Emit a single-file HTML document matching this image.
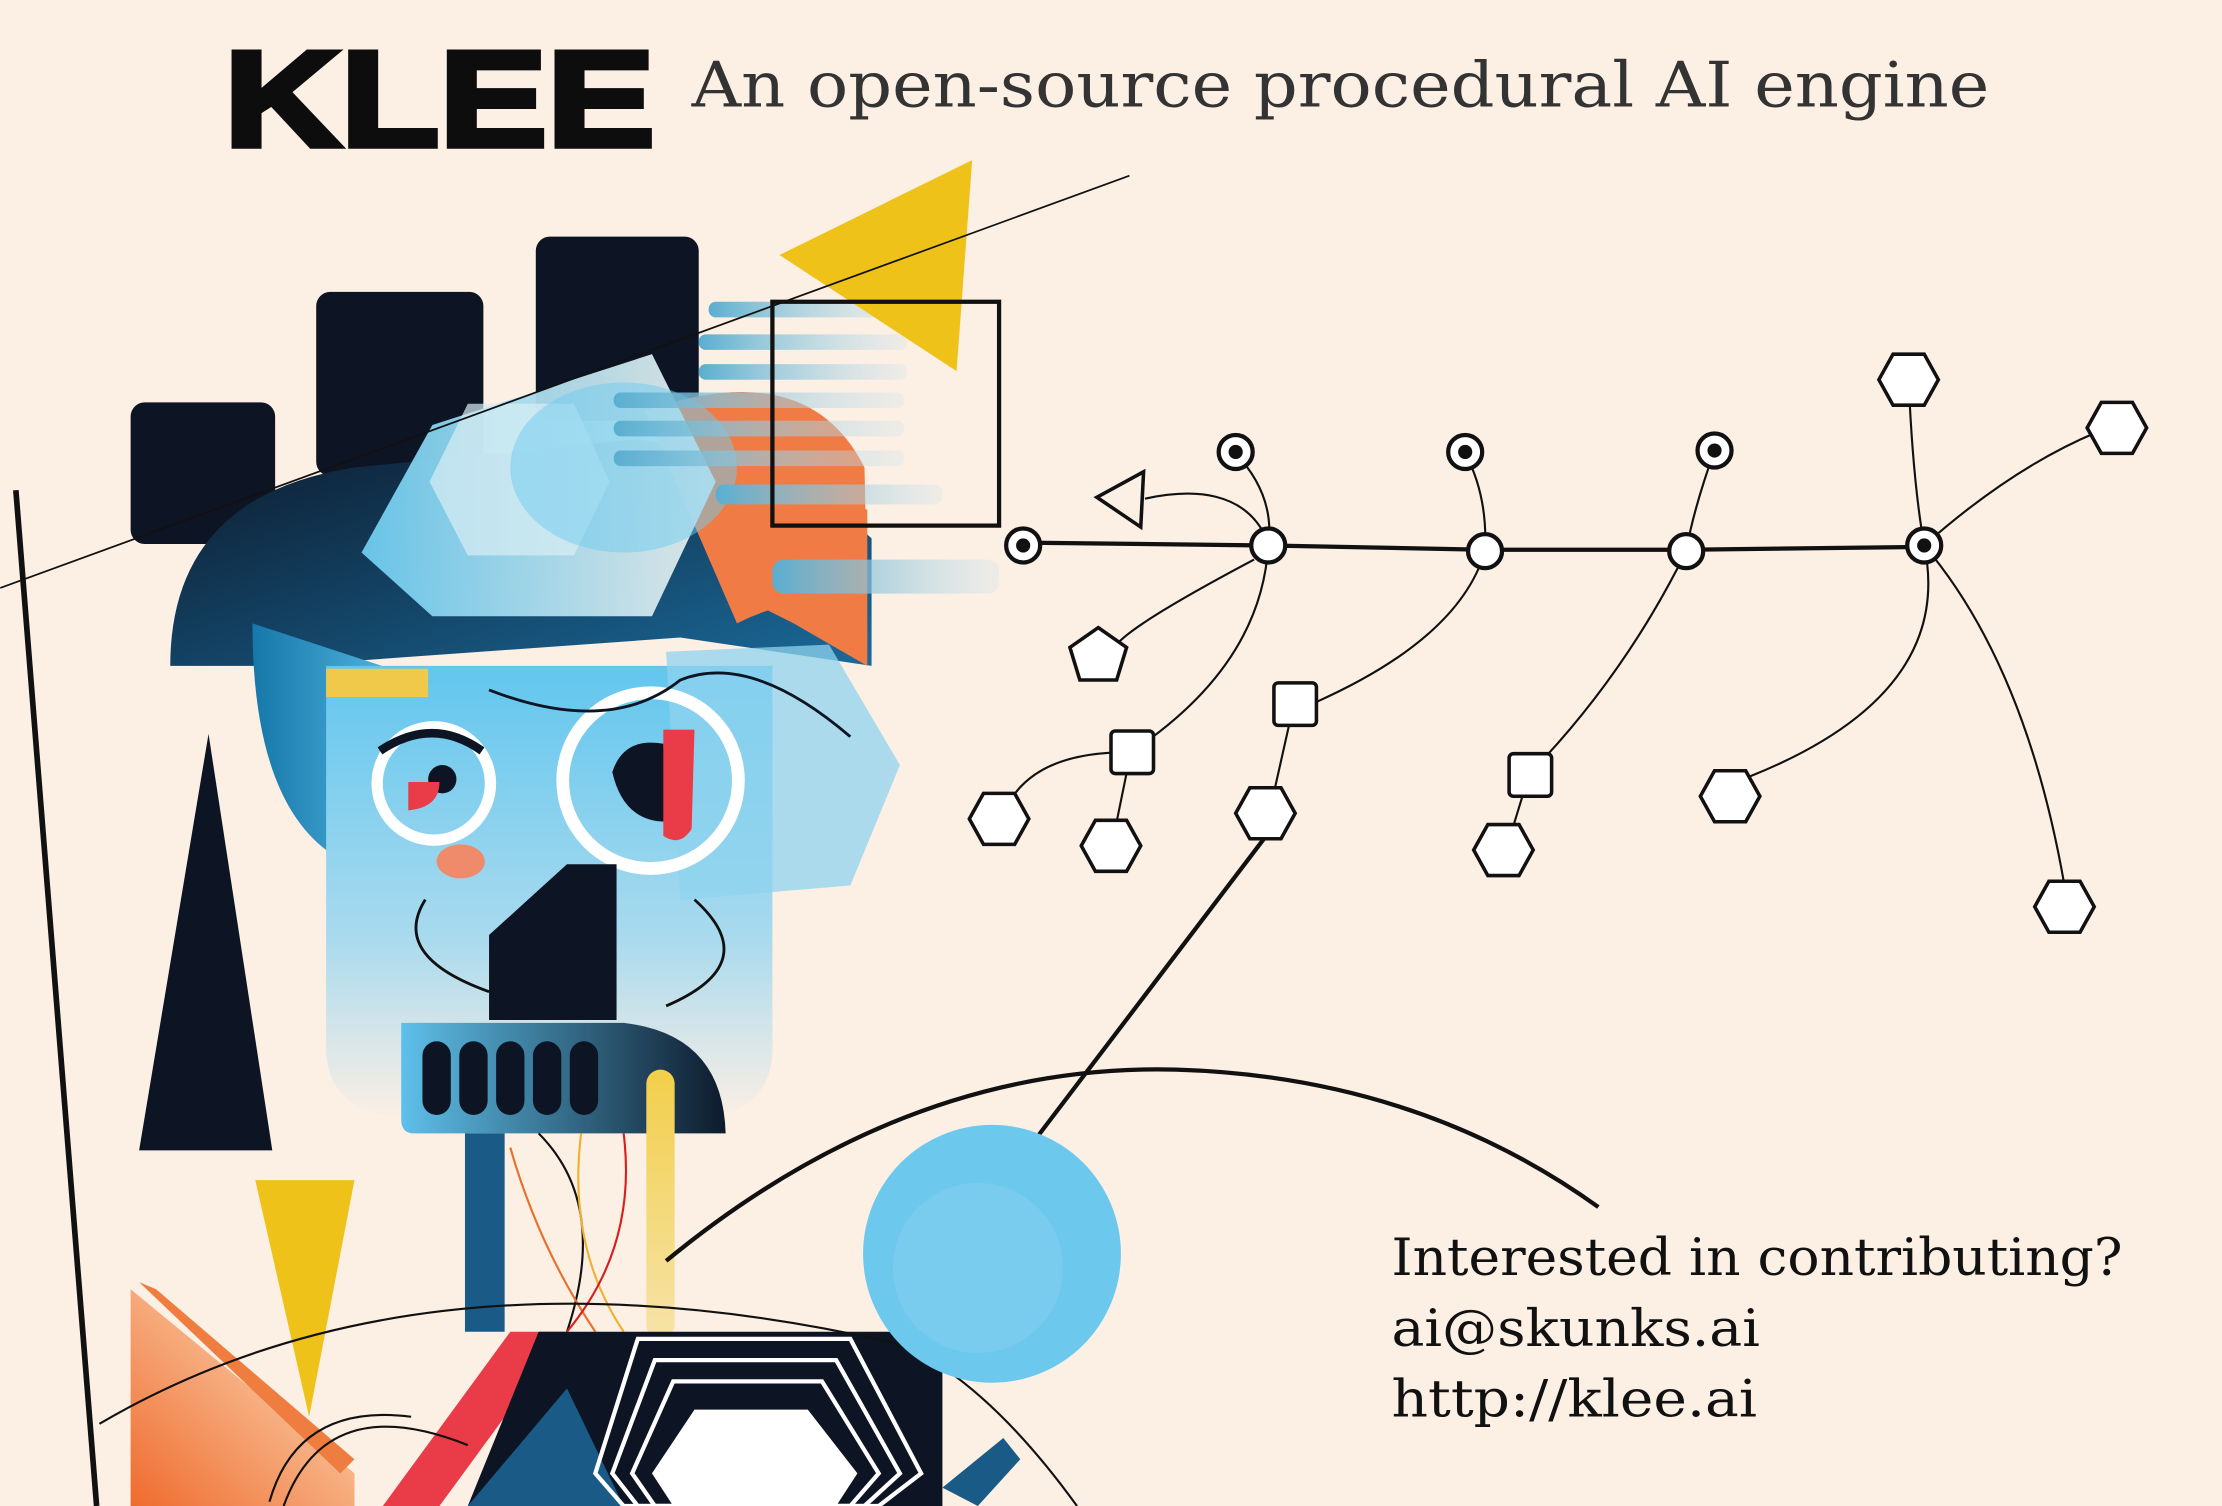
<!DOCTYPE html>
<html><head><meta charset="utf-8"><style>
html,body{margin:0;padding:0;background:#fcefe4;}
svg{display:block;}
</style></head><body>
<svg width="2222" height="1506" viewBox="0 0 1568 1063" xmlns="http://www.w3.org/2000/svg">
<defs>
<linearGradient id="navy" x1="0" y1="0" x2="1" y2="1"><stop offset="0" stop-color="#0d1a2c"/><stop offset="1" stop-color="#1a6a9a"/></linearGradient>
<linearGradient id="face" x1="0" y1="0" x2="0" y2="1"><stop offset="0" stop-color="#62c6ee"/><stop offset="0.6" stop-color="#a9daee"/><stop offset="1" stop-color="#fcefe4"/></linearGradient>
<linearGradient id="hexg" x1="0" y1="0" x2="1" y2="0"><stop offset="0" stop-color="#6dcbef"/><stop offset="1" stop-color="#e8eeec"/></linearGradient>
<linearGradient id="barg" x1="0" y1="0" x2="1" y2="0"><stop offset="0" stop-color="#5aaed0"/><stop offset="1" stop-color="#cfe4ec" stop-opacity="0.3"/></linearGradient>
<linearGradient id="mouth" x1="0" y1="0" x2="1" y2="0"><stop offset="0" stop-color="#5ec0ea"/><stop offset="1" stop-color="#0d1a2c"/></linearGradient>
<linearGradient id="yel" x1="0" y1="0" x2="0" y2="1"><stop offset="0" stop-color="#f2cf4a"/><stop offset="1" stop-color="#f6e3a8"/></linearGradient>
<linearGradient id="org" x1="0" y1="1" x2="1" y2="0"><stop offset="0" stop-color="#ef6b2e"/><stop offset="1" stop-color="#fde9c9"/></linearGradient>
<linearGradient id="blueside" x1="0" y1="0" x2="1" y2="0"><stop offset="0" stop-color="#1678aa"/><stop offset="1" stop-color="#5ec0ea"/></linearGradient>
<polygon id="h" points="-21,0 -11,-18 11,-18 21,0 11,18 -11,18" fill="#fff" stroke="#111" stroke-width="2.5"/>
</defs>
<rect width="1568" height="1063" fill="#fcefe4"/>
<!-- Title -->
<text x="158" y="103" font-family="Liberation Sans, sans-serif" font-weight="900" font-size="96" fill="#0d0d0d" textLength="304" lengthAdjust="spacingAndGlyphs" stroke="#0d0d0d" stroke-width="4">KLEE</text>
<text x="488" y="75" font-family="DejaVu Serif, Liberation Serif, serif" font-size="44" fill="#333" textLength="916" lengthAdjust="spacingAndGlyphs">An open-source procedural AI engine</text>

<line x1="11" y1="346" x2="68" y2="1063" stroke="#111" stroke-width="4"/>

<rect x="92" y="284" width="102" height="100" rx="10" fill="#0d1424"/>
<rect x="223" y="206" width="118" height="130" rx="10" fill="#0d1424"/>
<rect x="378" y="167" width="115" height="130" rx="10" fill="#0d1424"/>
<path d="M120 470 Q120 350 250 330 L450 310 L560 330 L615 380 L615 470 L480 450 L200 470 Z" fill="url(#navy)"/>
<path d="M520 420 Q560 330 612 360 L612 470 L560 440 Z" fill="#f07b45"/>
<path d="M455 290 Q570 250 610 330 L612 420 Q560 420 520 440 Z" fill="#f07b45"/>
<path d="M178 440 Q178 560 230 600 L260 610 L300 480 Z" fill="url(#blueside)"/>
<path d="M230 470 L545 470 L545 740 Q545 790 480 790 L300 790 Q230 790 230 740 Z" fill="url(#face)"/>
<path d="M470 460 L585 455 L635 540 L600 625 L480 635 Z" fill="#8fd3ee" opacity="0.75"/>
<path d="M255 390 L305 300 L460 250 L505 340 L460 435 L305 435 Z" fill="url(#hexg)" opacity="0.95"/>
<path d="M303 340 L330 285 L405 285 L430 340 L405 392 L330 392 Z" fill="#d8eef4" opacity="0.7"/>
<ellipse cx="440" cy="330" rx="80" ry="60" fill="#6dcbef" opacity="0.5"/>
<rect x="230" y="472" width="72" height="20" fill="#f0c84a"/>
<g fill="url(#barg)">
<rect x="500" y="213" width="140" height="11" rx="5"/>
<rect x="493" y="236" width="147" height="11" rx="5"/>
<rect x="493" y="257" width="147" height="11" rx="5"/>
<rect x="433" y="277" width="205" height="11" rx="5"/>
<rect x="433" y="297" width="205" height="11" rx="5"/>
<rect x="433" y="318" width="205" height="11" rx="5"/>
<rect x="505" y="342" width="160" height="14" rx="6"/>
<rect x="545" y="395" width="160" height="24" rx="8"/>
</g>
<polygon points="550,180 686,113 675,262" fill="#efc219"/>
<rect x="545" y="213" width="160" height="158" fill="none" stroke="#111" stroke-width="3"/>
<circle cx="306" cy="553" r="40" fill="none" stroke="#fff" stroke-width="8"/>
<path d="M268 530 Q305 505 340 530" stroke="#0d1424" stroke-width="6" fill="none"/>
<circle cx="312" cy="550" r="10" fill="#0d1424"/>
<path d="M288 552 L310 552 Q310 570 288 572 Z" fill="#ea3b48"/>
<ellipse cx="325" cy="608" rx="17" ry="12" fill="#ef8a6a"/>
<circle cx="459" cy="551" r="62" fill="none" stroke="#fff" stroke-width="9"/>
<path d="M432 545 Q440 520 468 525 L470 580 Q440 580 432 545Z" fill="#0d1424"/>
<path d="M468 515 L490 515 L488 585 Q480 598 468 590 Z" fill="#ea3b48"/>
<path d="M345 487 Q430 520 480 480 Q530 460 600 520" stroke="#0d1424" stroke-width="2" fill="none"/>
<path d="M345 660 L400 610 L435 610 L435 720 L345 720 Z" fill="#0d1424"/>
<path d="M300 635 Q275 675 345 700" stroke="#111" stroke-width="2" fill="none"/>
<path d="M490 635 Q540 680 470 710" stroke="#111" stroke-width="2" fill="none"/>
<path d="M283 722 L440 722 Q510 730 512 800 L292 800 Q283 800 283 790 Z" fill="url(#mouth)"/>
<g fill="#0d1424">
<rect x="298" y="735" width="20" height="52" rx="10"/><rect x="324" y="735" width="20" height="52" rx="10"/><rect x="350" y="735" width="20" height="52" rx="10"/><rect x="376" y="735" width="20" height="52" rx="10"/><rect x="402" y="735" width="20" height="52" rx="10"/>
</g>
<rect x="328" y="800" width="28" height="140" fill="#1a5a86"/>
<rect x="456" y="755" width="20" height="190" rx="10" fill="url(#yel)"/>
<path d="M380 800 Q430 850 400 940" stroke="#111" stroke-width="1.5" fill="none"/>
<path d="M360 810 Q380 880 420 940" stroke="#e8702a" stroke-width="1.5" fill="none"/>
<path d="M410 800 Q400 880 440 940" stroke="#f0b030" stroke-width="1.5" fill="none"/>
<path d="M440 800 Q450 880 400 940" stroke="#d62020" stroke-width="1.5" fill="none"/>
<polygon points="147,518 98,812 192,812" fill="#0d1424"/>
<polygon points="180,833 250,833 218,1000" fill="#efc219"/>
<polygon points="92,910 92,1063 250,1063 250,1040" fill="url(#org)"/>
<polygon points="98,905 110,910 250,1030 240,1040" fill="#ef7d40"/>
<polygon points="270,1063 360,940 400,940 310,1063" fill="#ea3b48"/>
<polygon points="380,940 665,940 665,1063 330,1063" fill="#0d1424"/>
<polygon points="330,1063 400,980 440,1063" fill="#1a5a86"/>
<polygon points="450,945 600,945 650,1040 620,1063 440,1063 420,1040" fill="none" stroke="#fff" stroke-width="3"/>
<polygon points="462,960 590,960 635,1040 610,1063 450,1063 432,1040" fill="none" stroke="#fff" stroke-width="3"/>
<polygon points="475,975 580,975 620,1040 600,1063 462,1063 446,1040" fill="none" stroke="#fff" stroke-width="3"/>
<polygon points="490,995 570,995 605,1040 590,1063 475,1063 460,1040" fill="#fff"/>
<polygon points="665,1050 708,1015 720,1030 690,1063" fill="#1a5a86"/>
<line x1="0" y1="415" x2="797" y2="124" stroke="#111" stroke-width="1.2"/>
<path d="M70 1005 Q300 870 640 950 Q700 980 760 1063" stroke="#111" stroke-width="1.5" fill="none"/>
<path d="M190 1060 Q210 990 290 1000" stroke="#111" stroke-width="1.5" fill="none"/>
<path d="M200 1063 Q230 980 330 1020" stroke="#111" stroke-width="1.5" fill="none"/>
<path d="M470 890 Q640 750 830 755 Q1000 760 1128 852" stroke="#111" stroke-width="3" fill="none"/>
<line x1="892" y1="592" x2="730" y2="805" stroke="#111" stroke-width="3"/>
<circle cx="700" cy="885" r="91" fill="#6dc8ee"/>
<circle cx="690" cy="895" r="60" fill="#8ed3f0" opacity="0.4"/>

<g stroke="#111" fill="none" stroke-width="1.5">
<path d="M895 383 C880 345 840 345 808 352"/>
<path d="M872 320 Q900 350 895 385 Q890 470 798 531"/>
<path d="M885 395 Q800 440 788 455"/>
<path d="M798 531 Q730 530 710 570"/>
<path d="M798 531 L788 580"/>
<path d="M1034 320 Q1050 350 1048 389 Q1030 450 930 495"/>
<path d="M913 497 L900 555"/>
<path d="M1210 318 Q1195 360 1190 389 Q1150 470 1090 535"/>
<path d="M1079 547 L1068 583"/>
<path d="M1347 268 Q1350 340 1358 385 Q1380 490 1235 548"/>
<path d="M1358 385 Q1430 470 1457 625"/>
<path d="M1358 385 Q1420 330 1480 305"/>
</g>
<polyline points="722,383 895,385 1048,388 1190,388 1358,386" stroke="#111" stroke-width="3" fill="none"/>
<polygon points="774,351 807,333 805,372" fill="#fcefe4" stroke="#111" stroke-width="2.5"/>
<g fill="#fff" stroke="#111" stroke-width="3">
<circle cx="895" cy="385" r="12"/><circle cx="1048" cy="389" r="12"/><circle cx="1190" cy="389" r="12"/>
<circle cx="722" cy="385" r="12"/><circle cx="1358" cy="385" r="12"/>
<circle cx="872" cy="319" r="12"/><circle cx="1034" cy="319" r="12"/><circle cx="1210" cy="318" r="12"/>
</g>
<g fill="#111"><circle cx="722" cy="385" r="5"/><circle cx="1358" cy="385" r="5"/><circle cx="872" cy="319" r="5"/><circle cx="1034" cy="319" r="5"/><circle cx="1210" cy="318" r="5"/></g>
<g fill="#fff" stroke="#111" stroke-width="2.5">
<rect x="784" y="516" width="30" height="30" rx="3"/><rect x="899" y="482" width="30" height="30" rx="3"/><rect x="1065" y="532" width="30" height="30" rx="3"/>
<polygon points="775,443 795,457 788,480 762,480 755,457"/>
</g>
<use href="#h" x="705" y="578"/><use href="#h" x="784" y="597"/><use href="#h" x="893" y="574"/><use href="#h" x="1061" y="600"/><use href="#h" x="1221" y="562"/><use href="#h" x="1457" y="640"/><use href="#h" x="1347" y="268"/><use href="#h" x="1494" y="302"/>
<g font-family="DejaVu Serif, Liberation Serif, serif" font-size="36" fill="#111">
<text x="982" y="900" textLength="516" lengthAdjust="spacingAndGlyphs">Interested in contributing?</text>
<text x="982" y="950" textLength="260" lengthAdjust="spacingAndGlyphs">ai@skunks.ai</text>
<text x="982" y="1000" textLength="258" lengthAdjust="spacingAndGlyphs">http://klee.ai</text>
</g>
</svg>
</body></html>
